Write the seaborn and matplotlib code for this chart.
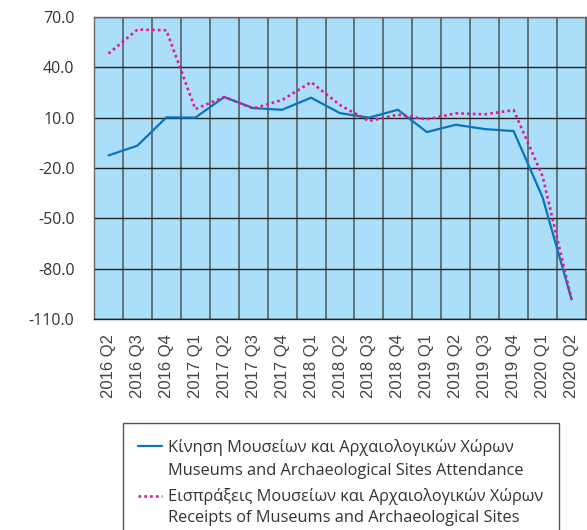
import numpy as np
import matplotlib
matplotlib.use("Agg")
import matplotlib.pyplot as plt
from matplotlib.lines import Line2D
from matplotlib.patches import Rectangle
import seaborn as sns

# Quarterly year-on-year change (%) of museums and archaeological sites
quarters = ["2016 Q2", "2016 Q3", "2016 Q4", "2017 Q1", "2017 Q2", "2017 Q3",
            "2017 Q4", "2018 Q1", "2018 Q2", "2018 Q3", "2018 Q4", "2019 Q1",
            "2019 Q2", "2019 Q3", "2019 Q4", "2020 Q1", "2020 Q2"]
attendance = [-12.5, -6.7, 10.2, 10.0, 22.3, 15.7, 14.7, 21.9, 12.7, 10.0,
              14.7, 1.4, 5.8, 3.2, 2.0, -37.5, -98.3]
receipts = [48.2, 62.5, 62.1, 15.1, 22.3, 15.5, 20.5, 31.2, 17.5, 8.0,
            11.8, 9.0, 12.6, 12.0, 14.5, -25.0, -98.3]
y_ticks = [-110, -80, -50, -20, 10, 40, 70]

label_attendance = ["Κίνηση Μουσείων και Αρχαιολογικών Χώρων",
                    "Museums and Archaeological Sites Attendance"]
label_receipts = ["Εισπράξεις Μουσείων και Αρχαιολογικών Χώρων",
                  "Receipts of Museums and Archaeological Sites"]

BLUE = "#0A73BE"
PINK = "#E6168C"
PANEL = "#ABDFF9"
TEXT = "#333333"

sns.set_style("white")
plt.rcParams["font.family"] = ["Open Sans", "DejaVu Sans"]

W, H = 587, 530
fig = plt.figure(figsize=(W / 100, H / 100), dpi=100)
ax = fig.add_axes([94 / W, (H - 319) / H, 492 / W, 302 / H])
ax.set_facecolor(PANEL)

pos = np.arange(len(quarters))
sns.lineplot(x=pos, y=attendance, ax=ax, color=BLUE, linewidth=1.6)
sns.lineplot(x=pos, y=receipts, ax=ax, color=PINK, linewidth=1.9,
             linestyle=(0, (1, 1.2)))

ax.set_xlim(-0.5, len(quarters) - 0.5)
ax.set_ylim(y_ticks[0], y_ticks[-1])

# category ticks with gridlines on the boundaries between quarters
ax.set_xticks(pos)
ax.set_xticklabels(quarters, rotation=90, fontfamily="Liberation Sans",
                   fontsize=12, color="#444444")
ax.set_xticks(np.arange(len(quarters) + 1) - 0.5, minor=True)
ax.tick_params(axis="x", which="both", length=0, pad=11)
ax.grid(axis="x", which="minor", color="#333333", linewidth=1.1, alpha=0.8)

ax.set_yticks(y_ticks)
ax.set_yticklabels([f"{v:.1f}" for v in y_ticks], fontsize=11.5, color=TEXT)
ax.tick_params(axis="y", length=8, width=1, color="#222222", pad=6,
               direction="out")
ax.grid(axis="y", which="major", color="#222222", linewidth=1.0)
ax.set_axisbelow(True)

for side in ["left", "right", "top"]:
    ax.spines[side].set_color("#666666")
    ax.spines[side].set_linewidth(1.0)
ax.spines["bottom"].set_color("#222222")
ax.spines["bottom"].set_linewidth(1.0)
ax.set_xlabel("")
ax.set_ylabel("")


def fx(px):
    return px / W


def fy(py):
    return (H - py) / H


# legend box drawn below the axes
fig.add_artist(Rectangle((fx(123), fy(560)), fx(559) - fx(123), fy(423) - fy(560),
                         transform=fig.transFigure, facecolor="white",
                         edgecolor="#555555", linewidth=1.0))
fig.add_artist(Line2D([fx(138), fx(162)], [fy(446), fy(446)],
                      transform=fig.transFigure, color=BLUE, linewidth=1.6))
fig.add_artist(Line2D([fx(138), fx(162)], [fy(496), fy(496)],
                      transform=fig.transFigure, color=PINK, linewidth=1.9,
                      linestyle=(0, (1, 1.2))))
for text, base in zip(label_attendance + label_receipts, [452, 475, 501, 522]):
    fig.text(fx(168), fy(base), text, fontsize=11.8, color=TEXT,
             va="baseline", ha="left")

fig.savefig("out.png", dpi=100)
